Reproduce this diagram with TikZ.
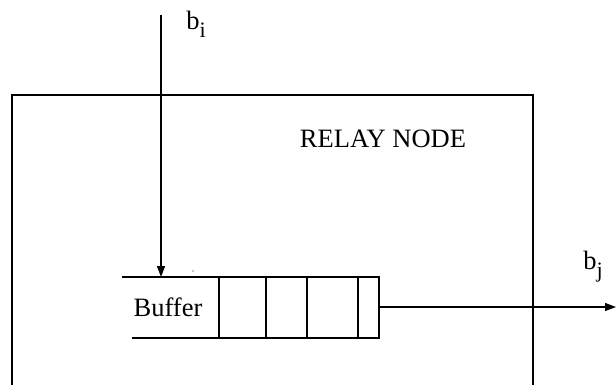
\documentclass[tikz,border=0pt]{standalone}
\usepackage{fontspec}
\setmainfont{Liberation Serif}
\usetikzlibrary{arrows.meta}
\tikzset{
  ln/.style={line width=1.2pt, black},
  arr/.style={ln, -{Triangle[length=11pt,width=8pt]}},
  lbl/.style={font=\fontsize{26.5}{30}\selectfont, inner sep=0pt}
}
\begin{document}
\begin{tikzpicture}[x=1pt,y=-1pt]
\useasboundingbox (0,0) rectangle (616,385);
% relay node box (open at bottom)
\coordinate (bl) at (12,385);
\coordinate (tl) at (12,95);
\coordinate (tr) at (533,95);
\coordinate (br) at (533,385);
\draw[ln] (bl) -- (tl) -- (tr) -- (br);
\node[lbl] (relay) at (383,139) {RELAY NODE};
% buffer
\coordinate (btl) at (122,277);
\coordinate (btr) at (379,277);
\coordinate (bbl) at (132,338);
\coordinate (bbr) at (379,338);
\draw[ln] (btl) -- (btr) -- (bbr) -- (bbl);
\foreach \x in {219,266,307,358} \draw[ln] (\x,277) -- (\x,338);
\node[lbl] (buf) at (168,307) {Buffer};
\fill (193,271) circle (0.6pt);
% input
\coordinate (in) at (161,15);
\coordinate (inend) at (161,277);
\draw[arr] (in) -- (inend);
\node[lbl] (bi) at (196,24) {b\raisebox{-8pt}{\fontsize{22}{24}\selectfont i}};
% output
\coordinate (outs) at (379,307);
\coordinate (oute) at (616,307);
\draw[arr] (outs) -- (oute);
\node[lbl] (bj) at (593,267) {b\raisebox{-8pt}{\fontsize{22}{24}\selectfont j}};
\end{tikzpicture}
\end{document}
